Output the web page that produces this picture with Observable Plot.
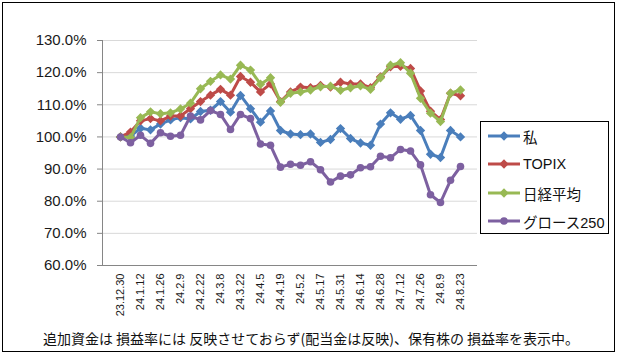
<!DOCTYPE html>
<html><head><meta charset="utf-8">
<script src="https://cdn.jsdelivr.net/npm/d3@7"></script>
<script src="https://cdn.jsdelivr.net/npm/@observablehq/plot@0.6"></script>
<style>
body{margin:0;background:#fff;}
#wrap{position:relative;width:622px;height:355px;overflow:hidden;background:#fff;}
#border{position:absolute;left:2px;top:2px;width:613px;height:350px;border:1.5px solid #000;box-sizing:border-box;}
#chart{position:absolute;left:0;top:0;}
#legend{position:absolute;left:480px;top:121px;width:129px;height:113px;border:1px solid #000;box-sizing:border-box;background:#fff;font-family:'Liberation Sans',Arial,'Noto Sans CJK JP',sans-serif;font-size:14.5px;color:#111;}
.row{position:absolute;left:5px;height:20px;display:flex;align-items:center;}
.row svg{margin-right:1px;}
#caption{position:absolute;left:0;top:328px;width:622px;text-align:center;font-family:'Noto Sans CJK JP',sans-serif;font-size:14px;color:#111;}
</style></head>
<body>
<div id="wrap">
<div id="border"></div>
<div id="chart"></div>
<div id="legend"></div>
<div id="caption">追加資金は 損益率には 反映させておらず(配当金は反映)、保有株の 損益率を表示中。</div>
</div>
<script>
const dates = ["23.12.30","24.1.5","24.1.12","24.1.19","24.1.26","24.2.2","24.2.9","24.2.16","24.2.22","24.3.1","24.3.8","24.3.15","24.3.22","24.3.29","24.4.5","24.4.12","24.4.19","24.4.26","24.5.2","24.5.10","24.5.17","24.5.24","24.5.31","24.6.7","24.6.14","24.6.21","24.6.28","24.7.5","24.7.12","24.7.19","24.7.26","24.8.2","24.8.9","24.8.16","24.8.23"];
const tickLabels = ["23.12.30","24.1.12","24.1.26","24.2.9","24.2.22","24.3.8","24.3.22","24.4.5","24.4.19","24.5.2","24.5.17","24.5.31","24.6.14","24.6.28","24.7.12","24.7.26","24.8.9","24.8.23"];
const yTicks = [60,70,80,90,100,110,120,130];

const watashi = [100,100.3,102.7,102.2,104,105.3,106,105.6,107.9,108.3,111,107.7,112.9,108.8,104.6,108.1,102,100.9,100.7,100.9,98.3,99.2,102.6,99.5,98.1,97.4,104,107.5,105.5,106.7,102,94.6,93.6,102,100];
const topix = [100,101.5,105,105.7,105,106.5,106.5,108.8,111,113,114.8,113,118.8,117,114,116.5,111,114,115.5,115.3,116,115.5,117,116.5,116.5,115.3,118.7,121.8,122,121.3,114.3,108,105.4,113.6,112.8];
const nikkei = [100,99.8,106,107.8,107.2,107.5,108.7,110.5,115,117.3,119.3,118,122.3,120.8,116.4,118.4,110.8,113.6,114,114.6,115.6,115.8,114.5,115.3,115.9,114.8,118.4,122.3,123.1,119.8,112,107.4,104.8,113.6,114.6];
const growth = [100,98.2,100.5,98,101.3,100.2,100.5,106.5,105.3,108.2,107,102.3,107,105.7,97.8,97.4,90.6,91.5,91.2,92.3,89.8,86,87.8,88.2,90.4,90.7,94,93.5,96.1,95.6,91.3,82,79.6,86.5,90.8];

const names = ["私","TOPIX","日経平均","グロース250"];
const colors = ["#4A7EBB","#BE4B48","#98B954","#7D60A0"];
const symbols = ["diamond2","diamond2","diamond2","circle"];
const radii = [4.2,4.2,4.2,3.8];
const seriesValues = [watashi, topix, nikkei, growth];

const seriesData = seriesValues.map((vals, k) => vals.map((v, i) => ({date: dates[i], value: v, name: names[k]})));

const marks = [
  Plot.gridY(yTicks, {stroke: "#d9d9d9", strokeOpacity: 1, strokeWidth: 1}),
  Plot.ruleY([60], {stroke: "#868686"}),
  Plot.frame({anchor: "left", stroke: "#868686"}),
  Plot.axisY(yTicks, {tickSize: 5, tickPadding: 11, stroke: "#868686", label: null, fontSize: 15, tickFormat: d => d.toFixed(1) + "%"}),
  Plot.axisX(tickLabels, {tickSize: 0, tickRotate: -90, fontSize: 11, tickPadding: 8, label: null})
];
seriesData.forEach((sd, k) => {
  marks.push(Plot.line(sd, {x: "date", y: "value", stroke: colors[k], strokeWidth: 3}));
  marks.push(Plot.dot(sd, {x: "date", y: "value", symbol: symbols[k], r: radii[k], fill: colors[k], stroke: "none"}));
});

const chart = Plot.plot({
  width: 622, height: 330,
  marginLeft: 102, marginRight: 145, marginTop: 40, marginBottom: 65,
  style: {fontFamily: "'Liberation Sans', Arial, sans-serif", fontSize: "14.5px", color: "#1a1a1a", background: "transparent"},
  x: {type: "point", domain: dates, padding: 0.5, align: 0.5, label: null},
  y: {domain: [60, 130], label: null},
  marks
});
document.getElementById("chart").appendChild(chart);

// legend
const legend = document.getElementById("legend");
const rowTops = [4, 32, 61, 89];
names.forEach((n, k) => {
  const row = document.createElement("div");
  row.className = "row";
  row.style.top = rowTops[k] + "px";
  const svg = d3.create("svg").attr("width", 36).attr("height", 20);
  svg.append("line").attr("x1", 2).attr("x2", 34).attr("y1", 10).attr("y2", 10).attr("stroke", colors[k]).attr("stroke-width", 3);
  const sym = symbols[k] === "circle" ? d3.symbolCircle : d3.symbolDiamond2;
  svg.append("path").attr("transform", "translate(18,10)").attr("d", d3.symbol(sym, Math.PI * radii[k] * radii[k])()).attr("fill", colors[k]);
  row.appendChild(svg.node());
  const span = document.createElement("span");
  span.textContent = n;
  row.appendChild(span);
  legend.appendChild(row);
});
</script>
</body></html>
